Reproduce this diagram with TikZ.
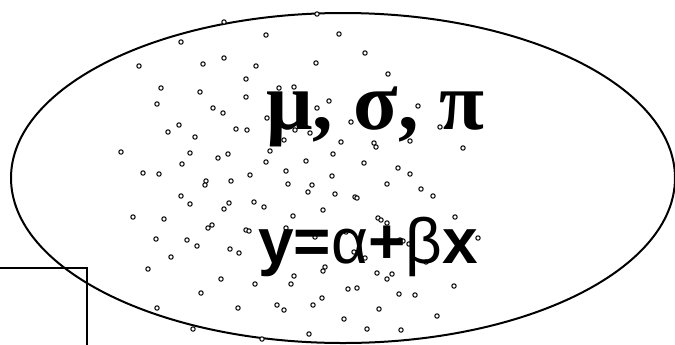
\documentclass[tikz,border=0pt]{standalone}
\usepackage{fontspec}
\setmainfont{Liberation Serif}
\newfontfamily\formulafont{Liberation Sans}
\usepackage{xcolor}
\usetikzlibrary{positioning}
\definecolor{ink}{HTML}{000000}
\tikzset{
  popline/.style   ={draw=ink, line width=1pt},
  framebox/.style  ={draw=ink, line width=1pt},
  sampledot/.style ={draw=ink, line width=0.5pt, fill=white},
  paramtext/.style ={anchor=base west, inner sep=0pt, font=\bfseries\fontsize{41}{41}\selectfont},
  modeltext/.style ={anchor=base west, inner sep=0pt, font=\formulafont\bfseries\fontsize{32}{32}\selectfont},
}
\begin{document}
\begin{tikzpicture}[x=0.5pt,y=-0.5pt]
    \clip (0,0) rectangle (675,344);

    % frame in the lower left corner
    \draw[framebox] (-20,268) -- (87,268) -- (87,360);

    % population
    \draw[popline] (343,178) ellipse [x radius=332, y radius=165];

    % sample points
    \foreach \px/\py in {
      224/22, 317/14, 181/42, 266/35, 339/34, 139/66, 203/64, 224/58, 256/66, 316/63,
      365/53, 388/74, 246/79, 161/88, 200/92, 246/97, 279/88, 294/87, 157/104, 213/108,
      223/113, 329/101, 317/108, 351/122, 179/125, 168/132, 195/137, 236/129, 247/130, 295/130,
      310/133, 284/140, 341/142, 374/143, 376/147, 121/152, 190/153, 218/158, 228/154, 270/151,
      266/162, 306/161, 333/154, 364/163, 398/168, 143/173, 159/174, 182/164, 250/175, 286/171,
      332/176, 206/181, 205/185, 231/181, 288/184, 312/185, 308/192, 335/194, 355/197, 357/198,
      387/184, 181/196, 267/118, 418/106, 440/127, 410/141, 463/148, 410/174, 421/189, 433/196,
      229/203, 224/209, 254/202, 264/207, 323/210, 293/216, 208/228, 212/225, 246/230, 249/231,
      286/228, 315/237, 346/232, 378/218, 381/220, 387/223, 455/217, 400/240, 403/241, 409/244,
      478/238, 230/249, 239/253, 300/250, 354/252, 365/258, 426/262, 325/267, 323/271, 294/276,
      377/273, 392/274, 387/279, 221/279, 255/284, 291/284, 348/289, 357/288, 454/286, 399/294,
      415/295, 322/298, 201/293, 190/204, 133/217, 164/219, 156/239, 187/240, 197/246, 171/257,
      148/269, 157/308, 238/308, 193/329, 277/305, 284/310, 313/305, 379/309, 344/319, 437/316,
      367/329, 401/330, 309/334, 262/339}
      \draw[sampledot] (\px,\py) circle [radius=1.1pt];

    % parameters and model
    \node[paramtext] (params) at (266,129) {μ, σ, π};
    \node[modeltext] (model)  at (258,263) {y={\mdseries α}+{\mdseries β}x};
  \end{tikzpicture}
\end{document}
